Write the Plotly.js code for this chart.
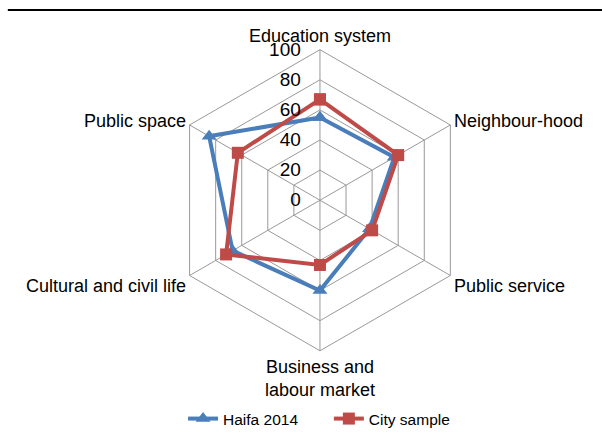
<!DOCTYPE html>
<html>
<head>
<meta charset="utf-8">
<script src="https://cdn.plot.ly/plotly-3.0.1.min.js"></script>
<style>html,body{margin:0;padding:0;background:#fff;}#chart{width:602px;height:436px;}</style>
</head>
<body>
<div id="chart"></div>
<script>
const categories = ["Education system", "Neighbour-hood", "Public service", "Business and<br>labour market", "Cultural and civil life", "Public space"];
const haifa2014 = [55, 57, 38, 60, 67, 85];
const citySample = [67, 60, 40, 43, 72, 63];
const radialTicks = [0, 20, 40, 60, 80, 100];
const seriesNames = ["Haifa 2014", "City sample"];

const close = a => a.concat([a[0]]);
const pad = "\u00a0\u00a0\u00a0";

const traces = [
  {
    type: "scatterpolar", name: seriesNames[0] + "\u00a0\u00a0\u00a0\u00a0\u00a0\u00a0",
    r: close(haifa2014), theta: close(categories),
    mode: "lines+markers",
    line: {color: "#4A7EBB", width: 4},
    marker: {symbol: "triangle-up", size: 13, color: "#4A7EBB"}
  },
  {
    type: "scatterpolar", name: seriesNames[1],
    r: close(citySample), theta: close(categories),
    mode: "lines+markers",
    line: {color: "#BE4B48", width: 4},
    marker: {symbol: "square", size: 12, color: "#BE4B48"}
  }
];

const layout = {
  width: 602, height: 436,
  margin: {l: 0, r: 0, t: 0, b: 0},
  paper_bgcolor: "#fff",
  font: {family: "Liberation Sans, Arial, sans-serif", color: "#000", size: 18},
  showlegend: true,
  legend: {orientation: "h", x: 0.53, xanchor: "center", y: 0.03, yanchor: "middle", font: {size: 15.5}},
  polar: {
    domain: {x: [0.279, 0.784], y: [0.188, 0.885]},
    gridshape: "linear",
    bgcolor: "#fff",
    angularaxis: {
      direction: "clockwise", rotation: 90,
      gridcolor: "#999999", linecolor: "#999999", showline: true,
      ticks: "", tickfont: {size: 18}
    },
    radialaxis: {
      range: [0, 100], tickvals: radialTicks, ticktext: radialTicks.map(v => String(v) + pad),
      angle: 90, side: "counterclockwise", tickangle: 90,
      gridcolor: "#999999", showline: false, ticks: "",
      tickfont: {size: 19}
    }
  },
  shapes: [
    {type: "line", xref: "paper", yref: "paper", x0: 0.013, x1: 1, y0: 1 - 10/436, y1: 1 - 10/436, line: {color: "#000", width: 2}}
  ]
};

Plotly.newPlot("chart", traces, layout, {displayModeBar: false, staticPlot: true});
</script>
</body>
</html>
